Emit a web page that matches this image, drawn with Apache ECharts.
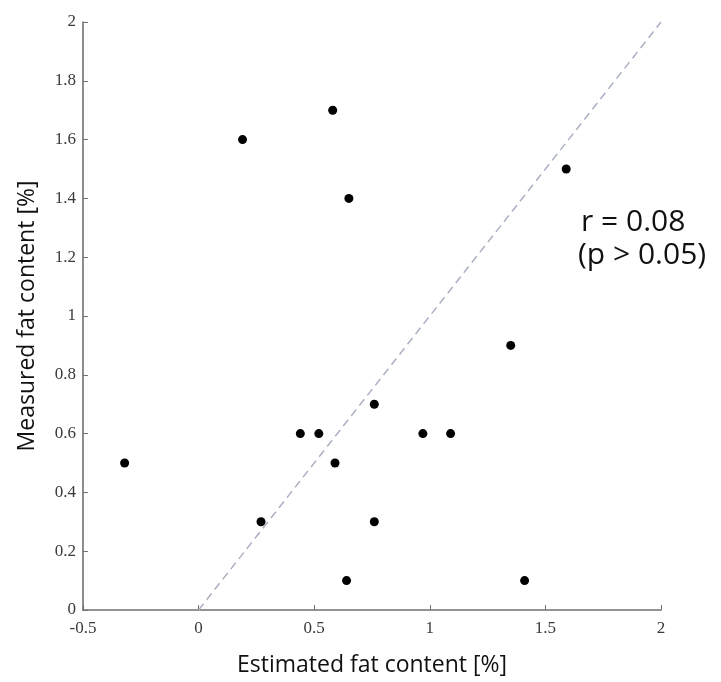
<!DOCTYPE html>
<html><head><meta charset="utf-8">
<script src="https://cdn.jsdelivr.net/npm/echarts@6/dist/echarts.min.js"></script>
<style>html,body{margin:0;padding:0;background:#fff}#c{width:721px;height:682px}</style>
</head><body><div id="c"></div>
<script>
var estimated = [-0.32, 0.19, 0.58, 0.65, 1.59, 1.35, 0.76, 0.44, 0.52, 0.97, 1.09, 0.59, 0.27, 0.76, 0.64, 1.41];
var measured  = [0.5, 1.6, 1.7, 1.4, 1.5, 0.9, 0.7, 0.6, 0.6, 0.6, 0.6, 0.5, 0.3, 0.3, 0.1, 0.1];
var identityX = [0, 2];
var identityY = [0, 2];
var annotationLines = ['r = 0.08', '(p > 0.05)'];
var xTitle = 'Estimated fat content [%]';
var yTitle = 'Measured fat content [%]';

var chart = echarts.init(document.getElementById('c'));
var pts = estimated.map(function(x,i){return [x, measured[i]];});
var idLine = identityX.map(function(x,i){return [x, identityY[i]];});
var tickFont = {fontFamily:'Liberation Serif', fontSize:17, color:'#3a3a3a'};
chart.setOption({
  animation:false,
  grid:{left:83, right:60, top:22, bottom:72, containLabel:false},
  xAxis:{type:'value', min:-0.5, max:2, interval:0.5,
    name:xTitle, nameLocation:'middle', nameGap:44,
    nameTextStyle:{fontFamily:'Open Sans', fontSize:23, color:'#111'},
    axisLine:{show:true, onZero:false, lineStyle:{color:'#707070', width:1.6}},
    axisTick:{show:true, inside:true, length:5, lineStyle:{color:'#707070'}},
    axisLabel:Object.assign({margin:10, formatter:function(v){return String(v);}}, tickFont),
    splitLine:{show:false}},
  yAxis:{type:'value', min:0, max:2, interval:0.2,
    name:yTitle, nameLocation:'middle', nameGap:44, nameRotate:90,
    nameTextStyle:{fontFamily:'Open Sans', fontSize:23, color:'#111'},
    axisLine:{show:true, onZero:false, lineStyle:{color:'#707070', width:1.6}},
    axisTick:{show:true, inside:true, length:5, lineStyle:{color:'#707070'}},
    axisLabel:Object.assign({margin:7, formatter:function(v){return String(+v.toFixed(1));}}, tickFont),
    splitLine:{show:false}},
  series:[
    {type:'line', data:idLine, symbol:'none', silent:true,
      lineStyle:{color:'#aab0c2', width:1.5, type:[8,5]}},
    {type:'scatter', data:pts, symbol:'circle', symbolSize:9,
      itemStyle:{color:'#000', opacity:1}}
  ],
  graphic:[
    {type:'text', left:581, top:207, style:{text:annotationLines[0], fontFamily:'Open Sans', fontSize:30, fill:'#111'}},
    {type:'text', left:578, top:240, style:{text:annotationLines[1], fontFamily:'Open Sans', fontSize:30, fill:'#111'}}
  ]
});
</script></body></html>
